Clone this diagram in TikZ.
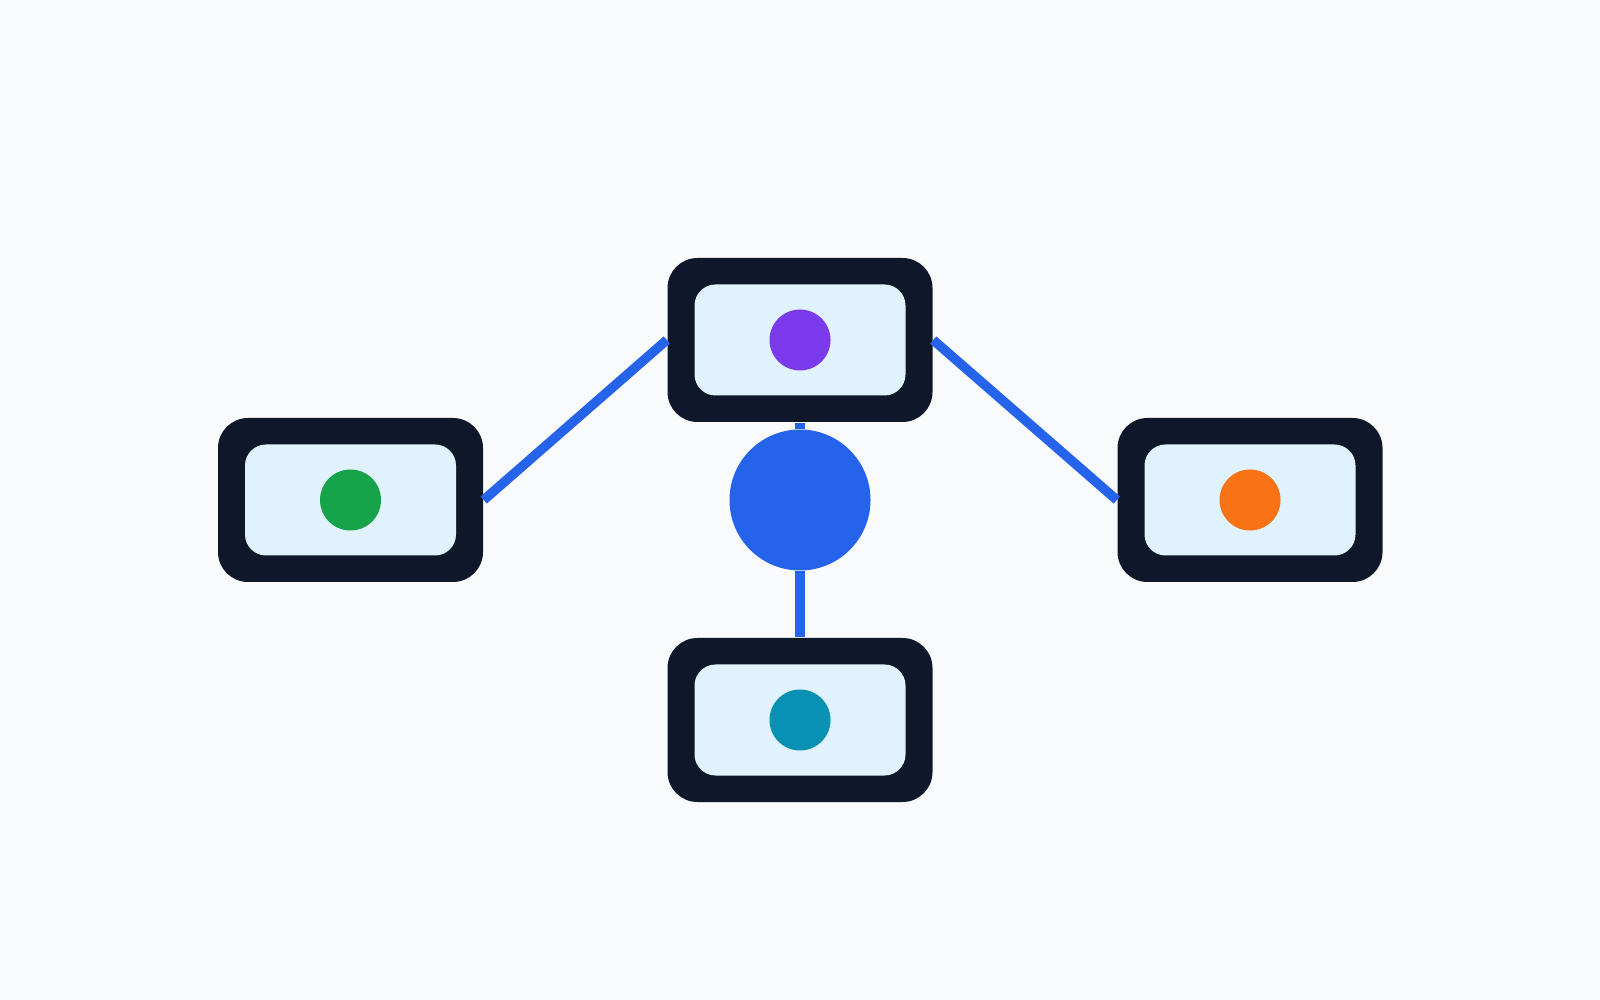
\documentclass[tikz,border=0pt]{standalone}
\usetikzlibrary{shapes.geometric, positioning, calc}
\definecolor{pagebg}{HTML}{F8FAFC}
\definecolor{framedark}{HTML}{0F172A}
\definecolor{paneblue}{HTML}{E0F2FE}
\definecolor{hubblue}{HTML}{2563EB}
\definecolor{dotviolet}{HTML}{7C3AED}
\definecolor{dotgreen}{HTML}{16A34A}
\definecolor{dotorange}{HTML}{F97316}
\definecolor{dotcyan}{HTML}{0891B2}

\begin{document}
\begin{tikzpicture}[auto]
    \tikzstyle{frame} = [rectangle, fill=framedark, rounded corners=0.3cm, minimum width=2.65cm, minimum height=1.64cm, inner sep=0pt]
    \tikzstyle{pane} = [rectangle, fill=paneblue, rounded corners=0.21cm, minimum width=2.11cm, minimum height=1.11cm, inner sep=0pt]
    \tikzstyle{dot} = [circle, minimum size=0.61cm, inner sep=0pt]
    \tikzstyle{link} = [line width=0.095cm, color=hubblue]

    \fill [pagebg] (0,0) rectangle (16,-10);
    \useasboundingbox (0,0) rectangle (16,-10);

    \node (hub) [circle, fill=hubblue, minimum size=1.41cm, inner sep=0pt] at (8.0,-5.0) {};

    \node (topframe) [frame] at (8.0,-3.4) {};
    \node (leftframe) [frame] at (3.505,-5.0) {};
    \node (rightframe) [frame] at (12.5,-5.0) {};
    \node (bottomframe) [frame] at (8.0,-7.2) {};

    \node (toppane) [pane] at (topframe.center) {};
    \node (leftpane) [pane] at (leftframe.center) {};
    \node (rightpane) [pane] at (rightframe.center) {};
    \node (bottompane) [pane] at (bottomframe.center) {};

    \node (topdot) [dot, fill=dotviolet] at (toppane.center) {};
    \node (leftdot) [dot, fill=dotgreen] at (leftpane.center) {};
    \node (rightdot) [dot, fill=dotorange] at (rightpane.center) {};
    \node (bottomdot) [dot, fill=dotcyan] at (bottompane.center) {};

    \draw [link] (topframe.south) -- (hub.north);
    \draw [link] (hub.south) -- (bottomframe.north);
    \draw [link] (leftframe.east) -- (topframe.west);
    \draw [link] (topframe.east) -- (rightframe.west);
\end{tikzpicture}
\end{document}
